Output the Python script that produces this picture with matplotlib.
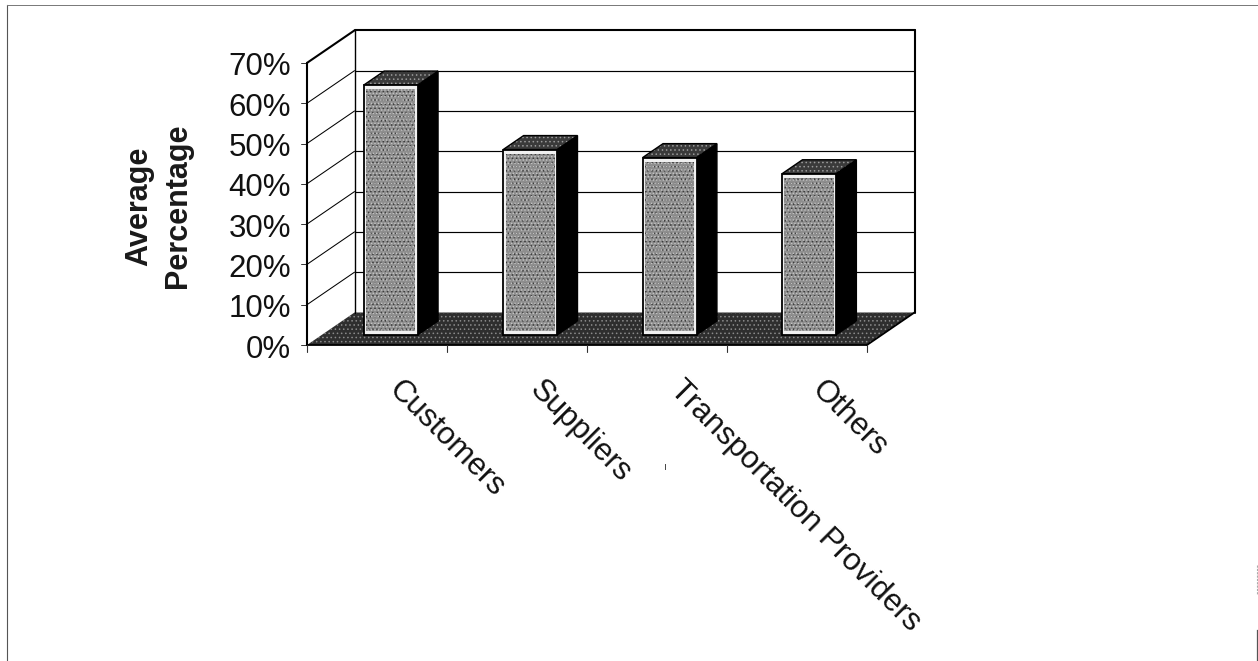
import matplotlib
matplotlib.use("Agg")
import matplotlib.pyplot as plt

categories = ["Customers", "Suppliers", "Transportation Providers", "Others"]
values = [62, 46, 44, 40]
y_ticks = [0, 10, 20, 30, 40, 50, 60, 70]
y_title = "Average\nPercentage"

plt.rcParams['font.family'] = ['Liberation Sans', 'DejaVu Sans']
plt.rcParams['hatch.linewidth'] = 0.6

fig = plt.figure(figsize=(12.58, 6.61), dpi=100)
ax = fig.add_axes([0, 0, 1, 1])
ax.set_xlim(0, 1258)
ax.set_ylim(661, 0)
ax.axis('off')

# projection of the oblique 3D frame: category units, percent, depth 0..1
X0, Y0 = 307.0, 345.0
CAT_W, PCT = 140.0, 4.03
DX, DY = 47.5, -32.5


def P(c, v, d=0.0):
    return X0 + c * CAT_W + d * DX, Y0 - v * PCT + d * DY


def poly(pts, **kw):
    xs, ys = zip(*pts)
    return ax.fill(xs, ys, **kw)


def line(a, b, lw=1.0, color='black', z=3):
    ax.plot([a[0], b[0]], [a[1], b[1]], color=color, lw=lw, solid_capstyle='round', zorder=z)


n = len(categories)
vmax = y_ticks[-1]

# scan border of the page
ax.plot([7, 7], [5, 661], color='#555555', lw=0.8, zorder=1)
ax.plot([7, 1258], [5, 5], color='#777777', lw=0.7, zorder=1)
ax.plot([1257, 1257], [630, 661], color='#555555', lw=0.9, zorder=1)
ax.plot([1257, 1257], [565, 595], color='#aaaaaa', lw=0.8, ls=(0, (2, 1)), zorder=1)

# floor
floor = [P(0, 0), P(n, 0), P(n, 0, 1), P(0, 0, 1)]
poly(floor, facecolor='#2e2e2e', edgecolor='#8a8a8a', hatch='....', lw=0, zorder=2)

# gridlines on back and side wall
for v in y_ticks[1:-1]:
    line(P(0, v, 1), P(n, v, 1), lw=0.85, z=1.5)
    line(P(0, v), P(0, v, 1), lw=0.75, z=1.5)
    line(P(0, v), (X0 - 6, Y0 - v * PCT), lw=0.7, color='#333333', z=1.5)
line(P(0, 0), (X0 - 6, Y0), lw=0.7, color='#333333')
line(P(0, vmax), (X0 - 6, Y0 - vmax * PCT), lw=0.7, color='#333333')

# frame
line(P(0, 0), P(0, vmax), lw=1.5, z=3)
line(P(0, vmax), P(0, vmax, 1), lw=1.5, z=3)
line(P(0, vmax, 1), P(n, vmax, 1), lw=1.5, z=3)
line(P(n, vmax, 1), P(n, 0, 1), lw=1.5, z=3)
line(P(0, vmax, 1), P(0, 0, 1), lw=1.0, z=3)
line(P(0, 0), P(n, 0), lw=1.3, z=3)
line(P(n, 0), P(n, 0, 1), lw=1.3, z=3)
for i in range(n + 1):
    line(P(i, 0), (P(i, 0)[0], Y0 + 7), lw=0.8, color='#333333')

# bars
B0, B1, D0, D1 = 0.30, 0.685, 0.31, 0.74
for i, v in enumerate(values):
    shift = i * -0.004
    a, b = i + B0 + shift, i + B1 + shift
    # side
    poly([P(b, 0, D0), P(b, 0, D1), P(b, v, D1), P(b, v, D0)], facecolor='black',
         edgecolor='black', lw=1, zorder=4)
    # top
    top = [P(a, v, D0), P(b, v, D0), P(b, v, D1), P(a, v, D1)]
    poly(top, facecolor='#3a3a3a', edgecolor='#9a9a9a', hatch='....', lw=0, zorder=4)
    poly(top, facecolor='none', edgecolor='black', lw=1, zorder=4.5)
    # front with pale rim, grained inner face
    poly([P(a, 0, D0), P(b, 0, D0), P(b, v, D0), P(a, v, D0)], facecolor='#f0f0f0',
         edgecolor='black', lw=1.3, zorder=5)
    ia, ib = a + 0.017, b - 0.017
    inner = [P(ia, 1.0, D0), P(ib, 1.0, D0), P(ib, v - 1.0, D0), P(ia, v - 1.0, D0)]
    poly(inner, facecolor='#8e8e8e', edgecolor='#3c3c3c', hatch='....', lw=0, zorder=6)
    poly(inner, facecolor='none', edgecolor='#c4c4c4', hatch='.....', lw=0, zorder=6.5)

# tick labels
for v in y_ticks:
    ax.text(X0 - 16, Y0 - v * PCT + 4.5, f"{v}%", ha='right', va='center', fontsize=22.5, color='#111111')

for i, c in enumerate(categories):
    ax.text(393 + i * 141, 385, c, rotation=-45, rotation_mode='anchor',
            ha='left', va='center', fontsize=22.5, color='#111111')

# axis title
ax.text(158.5, 206, y_title, rotation=90, ha='center', va='center', fontsize=22,
        fontweight='bold', color='#1a1a1a', linespacing=1.4)

# speck near the bottom of the labels
ax.plot([665, 665], [464, 469], color='#444444', lw=0.7)

fig.savefig("out.png", dpi=100)
